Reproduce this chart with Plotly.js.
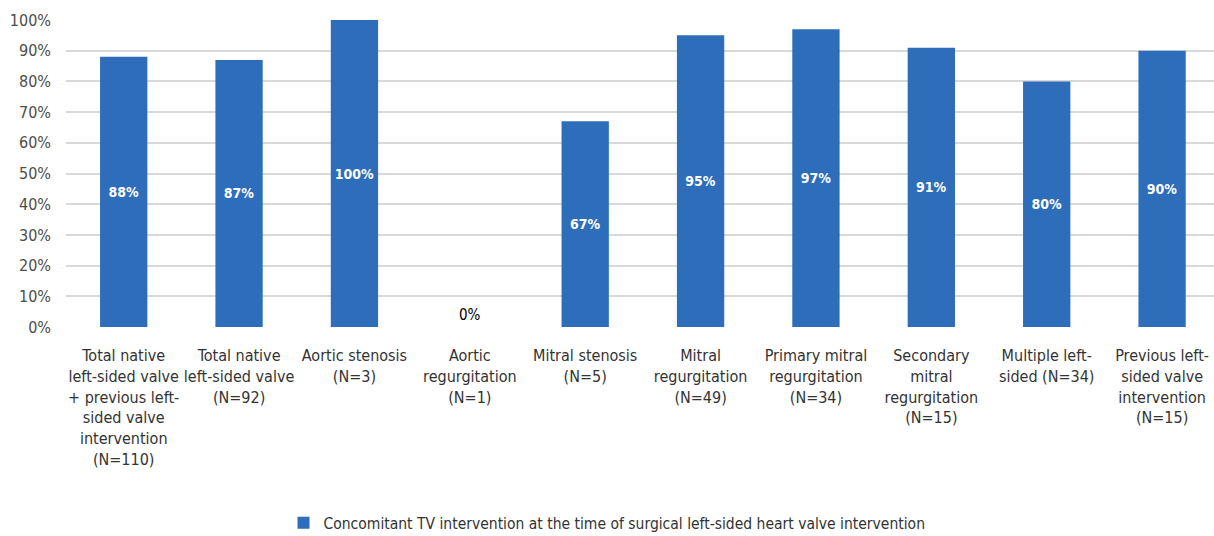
<!DOCTYPE html>
<html><head><meta charset="utf-8">
<script src="https://cdn.plot.ly/plotly-3.0.1.min.js"></script>
<style>html,body{margin:0;padding:0;background:#fff}#chart{width:1214px;height:536px}</style>
</head><body><div id="chart"></div>
<script>
const categories = [
  "Total native<br>left-sided valve<br>+ previous left-<br>sided valve<br>intervention<br>(N=110)",
  "Total native<br>left-sided valve<br>(N=92)",
  "Aortic stenosis<br>(N=3)",
  "Aortic<br>regurgitation<br>(N=1)",
  "Mitral stenosis<br>(N=5)",
  "Mitral<br>regurgitation<br>(N=49)",
  "Primary mitral<br>regurgitation<br>(N=34)",
  "Secondary<br>mitral<br>regurgitation<br>(N=15)",
  "Multiple left-<br>sided (N=34)",
  "Previous left-<br>sided valve<br>intervention<br>(N=15)"
];
const values = [0.88, 0.87, 1.00, 0.00, 0.67, 0.95, 0.97, 0.91, 0.80, 0.90];
const seriesName = "Concomitant TV intervention at the time of surgical left-sided heart valve intervention";
const yTickVals = [0,0.1,0.2,0.3,0.4,0.5,0.6,0.7,0.8,0.9,1.0];

const FONT = "'DejaVu Sans Condensed', sans-serif";
const trace = {
  type: 'bar', x: categories, y: values, name: seriesName,
  marker: {color: '#2E6DBA'},
  width: 0.41,
  text: values.map(v => Math.round(v*100) + '%'),
  textposition: values.map(v => v > 0 ? 'inside' : 'outside'),
  insidetextanchor: 'middle',
  textangle: 0,
  constraintext: 'none',
  insidetextfont: {color: '#ffffff', size: 14, family: FONT, weight: 'bold'},
  outsidetextfont: {color: '#000000', size: 15, family: FONT},
  cliponaxis: false,
  hoverinfo: 'skip'
};
const layout = {
  width: 1214, height: 536,
  margin: {l: 66, r: 0, t: 20, b: 209},
  paper_bgcolor: '#fff', plot_bgcolor: '#fff',
  showlegend: true,
  font: {family: FONT, color: '#404040'},
  xaxis: {
    range: [-0.5, 9.45], showgrid: false, zeroline: false, showline: false,
    ticks: '', ticklabelstandoff: 17,
    tickfont: {size: 16, color: '#333333', family: FONT}, tickangle: 0,
    fixedrange: true
  },
  yaxis: {
    range: [0, 1], tickvals: yTickVals, tickformat: '.0%',
    showgrid: true, gridcolor: '#d9d9d9', gridwidth: 2, zeroline: false,
    showline: false, ticks: '', ticklabelstandoff: 14,
    tickfont: {size: 16, color: '#4d4d4d', family: FONT}
  },
  legend: {
    orientation: 'h', x: 0.5, xanchor: 'center', xref: 'container',
    y: 0.024, yanchor: 'middle', yref: 'container',
    font: {size: 15.5, color: '#333333', family: FONT}
  }
};
Plotly.newPlot('chart', [trace], layout, {displayModeBar: false, staticPlot: true});
</script></body></html>
